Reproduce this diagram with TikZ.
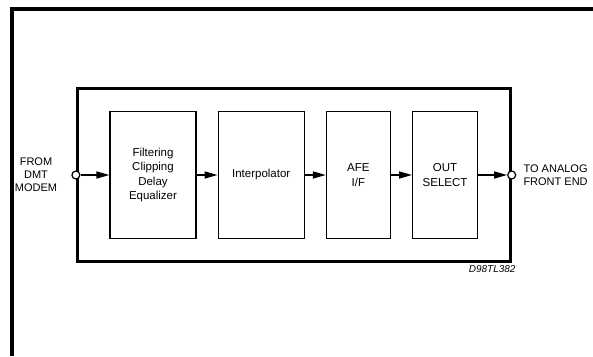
\documentclass[tikz,border=0pt]{standalone}
\usepackage{fontspec}
\setmainfont{Liberation Sans}
\usetikzlibrary{arrows.meta,positioning,fit}

\begin{document}
\begin{tikzpicture}[
    x=1pt, y=1pt,
    node distance=21pt,
    block/.style={rectangle, draw, line width=1.2pt, minimum width=86pt, minimum height=127pt, align=center, font=\fontsize{11.5}{14.5}\selectfont},
    port/.style={circle, draw, line width=1.2pt, fill=white, inner sep=0pt, minimum size=8pt},
    arrow/.style={-{Triangle[length=13pt,width=7pt]}, line width=1.5pt},
    label/.style={align=center, inner sep=0pt, font=\fontsize{11}{13}\selectfont}
]
    \useasboundingbox (0,0) rectangle (593,356);
    % page frame
    \draw[line width=3.5pt] (12,0) |- (593,347);

    % blocks
    \node[block] (filt) at (153,181) {Filtering\\Clipping\\Delay\\Equalizer};
    \node[block, right=of filt] (interp) {Interpolator};
    \node[block, minimum width=64pt, right=of interp] (afe) {AFE\\I/F};
    \node[block, minimum width=65pt, right=of afe] (outsel) {OUT\\SELECT};

    % chip outline
    \node[draw, line width=3pt, inner xsep=32pt, inner ysep=22pt, fit=(filt) (outsel)] (chip) {};
    \node[anchor=north east, inner sep=0pt, font=\fontsize{10}{12}\selectfont\itshape] at ([xshift=4pt,yshift=-3pt]chip.south east) {D98TL382};

    % ports
    \node[port] (inp) at (chip.west |- filt.west) {};
    \node[port] (outp) at (chip.east |- outsel.east) {};
    \node[label, left=14pt of inp] {FROM\\DMT\\MODEM};
    \node[label, right=7pt of outp] {TO ANALOG\\FRONT END};

    \draw[arrow] (inp) -- (filt);
    \draw[arrow] (filt) -- (interp);
    \draw[arrow] (interp) -- (afe);
    \draw[arrow] (afe) -- (outsel);
    \draw[arrow] (outsel) -- (outp);
\end{tikzpicture}
\end{document}
